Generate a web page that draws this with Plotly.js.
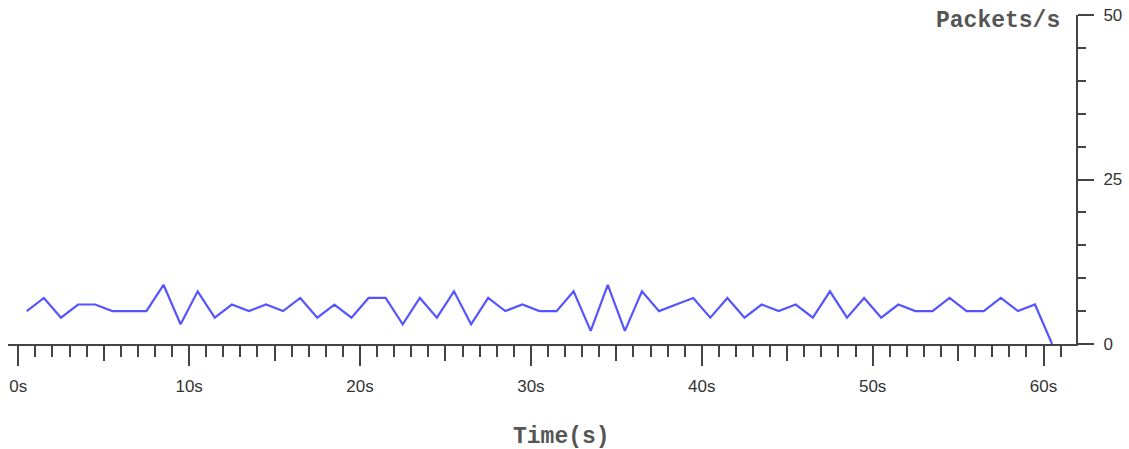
<!DOCTYPE html>
<html>
<head>
<meta charset="utf-8">
<script src="https://cdn.plot.ly/plotly-3.0.1.min.js"></script>
<style>html,body{margin:0;padding:0;background:#fff;}#chart{width:1129px;height:449px;}</style>
</head>
<body>
<div id="chart"></div>
<script>
// Time (s), sampled at half-second centres
const times = [0.5,1.5,2.5,3.5,4.5,5.5,6.5,7.5,8.5,9.5,10.5,11.5,12.5,13.5,14.5,15.5,16.5,17.5,18.5,19.5,
  20.5,21.5,22.5,23.5,24.5,25.5,26.5,27.5,28.5,29.5,30.5,31.5,32.5,33.5,34.5,35.5,36.5,37.5,38.5,39.5,
  40.5,41.5,42.5,43.5,44.5,45.5,46.5,47.5,48.5,49.5,50.5,51.5,52.5,53.5,54.5,55.5,56.5,57.5,58.5,59.5,60.5];
// Packets per second
const packets = [5,7,4,6,6,5,5,5,9,3,8,4,6,5,6,5,7,4,6,4,
  7,7,3,7,4,8,3,7,5,6,5,5,8,2,9,2,8,5,6,7,
  4,7,4,6,5,6,4,8,4,7,4,6,5,5,7,5,5,7,5,6,0];
const xTickVals = [0,10,20,30,40,50,60];
const xTickText = ['0s','10s','20s','30s','40s','50s','60s'];
const xMidTicks = [5,15,25,35,45,55];
const yTickVals = [0,25,50];
const xTitle = 'Time(s)';
const yTitle = 'Packets/s';

const axisColor = '#444';
const labelFont = {family: 'Liberation Sans, Arial, sans-serif', size: 17, color: '#333'};
const titleFont = {family: 'Liberation Mono, Courier New, monospace', size: 23, color: '#555', weight: 'bold'};
const xRange = [-0.6, 61.9];

const data = [
  {x: times, y: packets, type: 'scatter', mode: 'lines', line: {color: 'rgb(85,85,255)', width: 2.2}, hoverinfo: 'x+y'},
  {x: [], y: [], xaxis: 'x2', yaxis: 'y', type: 'scatter', mode: 'lines', showlegend: false}
];

const layout = {
  width: 1129, height: 449,
  margin: {l: 8, r: 53, t: 15, b: 105},
  paper_bgcolor: '#fff', plot_bgcolor: '#fff',
  showlegend: false,
  xaxis: {
    range: xRange, showgrid: false, zeroline: false,
    showline: true, linecolor: axisColor, linewidth: 2,
    ticks: 'outside', tickvals: xTickVals, ticktext: xTickText,
    ticklen: 20, tickwidth: 2, tickcolor: axisColor,
    minor: {dtick: 1, tick0: 0, ticks: 'outside', ticklen: 11, tickwidth: 2, tickcolor: axisColor, showgrid: false},
    tickfont: labelFont, ticklabelstandoff: 6
  },
  xaxis2: {
    range: xRange, overlaying: 'x', anchor: 'y', side: 'bottom',
    showgrid: false, zeroline: false, showline: false,
    ticks: 'outside', tickvals: xMidTicks, ticklen: 16, tickwidth: 2, tickcolor: axisColor,
    showticklabels: false
  },
  yaxis: {
    range: [0, 50], side: 'right', showgrid: false, zeroline: false,
    showline: true, linecolor: axisColor, linewidth: 2,
    ticks: 'outside', tickvals: yTickVals, ticklen: 16, tickwidth: 2, tickcolor: axisColor,
    minor: {dtick: 5, tick0: 0, ticks: 'outside', ticklen: 8, tickwidth: 2, tickcolor: axisColor, showgrid: false},
    tickfont: labelFont, ticklabelstandoff: 6
  },
  annotations: [
    {text: yTitle, xref: 'paper', yref: 'paper', x: 0.987, y: 1, xanchor: 'right', yanchor: 'middle', yshift: -6,
     showarrow: false, font: titleFont},
    {text: xTitle, xref: 'paper', yref: 'paper', x: 0.518, y: 0, xanchor: 'center', yanchor: 'middle', yshift: -93,
     showarrow: false, font: titleFont}
  ]
};

Plotly.newPlot('chart', data, layout, {displayModeBar: false});
</script>
</body>
</html>
